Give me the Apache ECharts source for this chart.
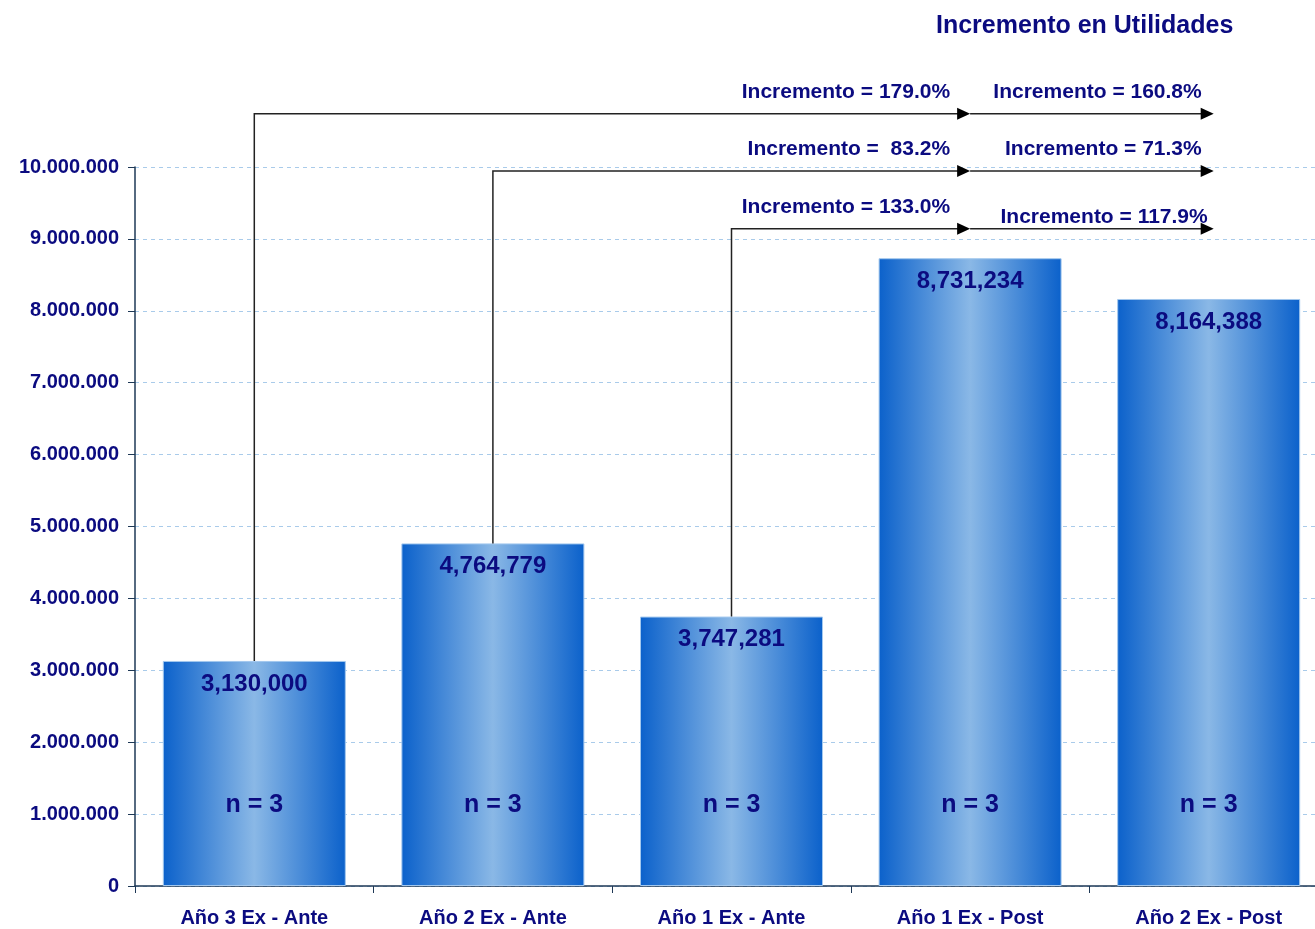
<!DOCTYPE html>
<html>
<head>
<meta charset="utf-8">
<script src="https://cdn.jsdelivr.net/npm/echarts@6/dist/echarts.min.js"></script>
<style>
  html, body { margin: 0; padding: 0; background: #fff; overflow: hidden; }
  #chart { width: 1328px; height: 929px; }
</style>
</head>
<body>
<div id="chart"></div>
<script>
// datos
const categories = ['Año 3 Ex - Ante', 'Año 2 Ex - Ante', 'Año 1 Ex - Ante', 'Año 1 Ex - Post', 'Año 2 Ex - Post'];
const utilidades = [3130000, 4764779, 3747281, 8731234, 8164388];
const nLabels = ['n = 3', 'n = 3', 'n = 3', 'n = 3', 'n = 3'];
const yTicks = [0, 1000000, 2000000, 3000000, 4000000, 5000000, 6000000, 7000000, 8000000, 9000000, 10000000];

// incrementos: desde la barra i hacia "Año 1 Ex - Post" y "Año 2 Ex - Post"
const incFrom = [0, 1, 2];
const incPost1 = ['Incremento = 179.0%', 'Incremento =  83.2%', 'Incremento = 133.0%'];
const incPost2 = ['Incremento = 160.8%', 'Incremento = 71.3%', 'Incremento = 117.9%'];
const incLevel = [10740000, 9945000, 9140000];

const NAVY = '#0b0b80';
const FONT = '"Liberation Sans", Arial, sans-serif';

const chart = echarts.init(document.getElementById('chart'));

const fmtMiles = v => String(v).replace(/\B(?=(\d{3})+(?!\d))/g, '.');
const fmtComa = v => String(v).replace(/\B(?=(\d{3})+(?!\d))/g, ',');

const arrowHead = (x, y, color) => ({
  type: 'polygon',
  shape: { points: [[x, y], [x - 13, y - 6], [x - 13, y + 6]] },
  style: { fill: color }
});

const option = {
  animation: false,
  title: {
    text: 'Incremento en Utilidades',
    left: 931,
    top: 9,
    textStyle: { fontFamily: FONT, fontSize: 25, fontWeight: 'bold', color: NAVY }
  },
  grid: { left: 135, right: 0, top: 167, bottom: 43 },
  xAxis: {
    type: 'category',
    data: categories,
    axisLine: { lineStyle: { color: '#1e3856', width: 1.5 } },
    axisTick: { show: true, length: 7, lineStyle: { color: '#1e3856' } },
    axisLabel: { margin: 22, fontFamily: FONT, fontSize: 20, fontWeight: 'bold', color: NAVY }
  },
  yAxis: {
    type: 'value',
    min: yTicks[0],
    max: yTicks[yTicks.length - 1],
    interval: yTicks[1] - yTicks[0],
    axisLine: { show: true, lineStyle: { color: '#1e3856', width: 1.5 } },
    axisTick: { show: true, length: 7, lineStyle: { color: '#1e3856' } },
    axisLabel: { margin: 16, fontFamily: FONT, fontSize: 20, fontWeight: 'bold', color: NAVY, formatter: fmtMiles },
    splitLine: { show: true, lineStyle: { color: '#a9cbea', type: [4, 4], width: 1 } }
  },
  series: [
    {
      type: 'bar',
      data: utilidades,
      barWidth: 183,
      itemStyle: {
        color: new echarts.graphic.LinearGradient(0, 0, 1, 0, [
          { offset: 0, color: '#0b61cb' },
          { offset: 0.5, color: '#8ab8e6' },
          { offset: 1, color: '#0b61cb' }
        ]),
        borderColor: '#a3c8ee',
        borderWidth: 1
      },
      label: {
        show: true,
        position: 'insideTop',
        distance: 11,
        formatter: p => fmtComa(p.value),
        fontFamily: FONT, fontSize: 24, fontWeight: 'bold', color: NAVY
      }
    },
    {
      type: 'custom',
      clip: false,
      z: 10,
      silent: true,
      data: nLabels.map((t, i) => [i, 1130000]),
      encode: { x: 0, y: 1 },
      renderItem: (params, api) => {
        const p = api.coord([api.value(0), api.value(1)]);
        return {
          type: 'text',
          x: p[0], y: p[1],
          style: {
            text: nLabels[params.dataIndex],
            align: 'center', verticalAlign: 'middle',
            font: 'bold 25px ' + FONT, fill: NAVY
          }
        };
      }
    },
    {
      type: 'custom',
      clip: false,
      z: 10,
      silent: true,
      data: incFrom.map((f, k) => [f, incLevel[k]]),
      encode: { x: 0, y: 1 },
      renderItem: (params, api) => {
        const k = params.dataIndex;
        const f = incFrom[k];
        const lvl = incLevel[k];
        const base = api.coord([f, utilidades[f]]);
        const top = api.coord([f, lvl]);
        const a1 = api.coord([3, lvl]);
        const a2 = api.coord([4, lvl]);
        const lineColor = '#222';
        return {
          type: 'group',
          children: [
            {
              type: 'polyline',
              shape: { points: [[base[0], base[1]], [top[0], top[1]], [a1[0] - 4, a1[1]]] },
              style: { stroke: lineColor, lineWidth: 1.5, fill: null }
            },
            {
              type: 'line',
              shape: { x1: a1[0], y1: a1[1], x2: a2[0] - 4, y2: a2[1] },
              style: { stroke: lineColor, lineWidth: 1.5 }
            },
            arrowHead(a1[0], a1[1], '#000'),
            arrowHead(a2[0] + 5, a2[1], '#000'),
            {
              type: 'text',
              x: a1[0] - 20, y: top[1] - 22,
              style: {
                text: incPost1[k], align: 'right', verticalAlign: 'middle',
                font: 'bold 21px ' + FONT, fill: NAVY
              }
            },
            {
              type: 'text',
              x: a2[0] - 7 + (k === 2 ? 6 : 0), y: top[1] - (k === 2 ? 12 : 22),
              style: {
                text: incPost2[k], align: 'right', verticalAlign: 'middle',
                font: 'bold 21px ' + FONT, fill: NAVY
              }
            }
          ]
        };
      }
    }
  ]
};

chart.setOption(option);
window.addEventListener('resize', () => chart.resize());
</script>
</body>
</html>
